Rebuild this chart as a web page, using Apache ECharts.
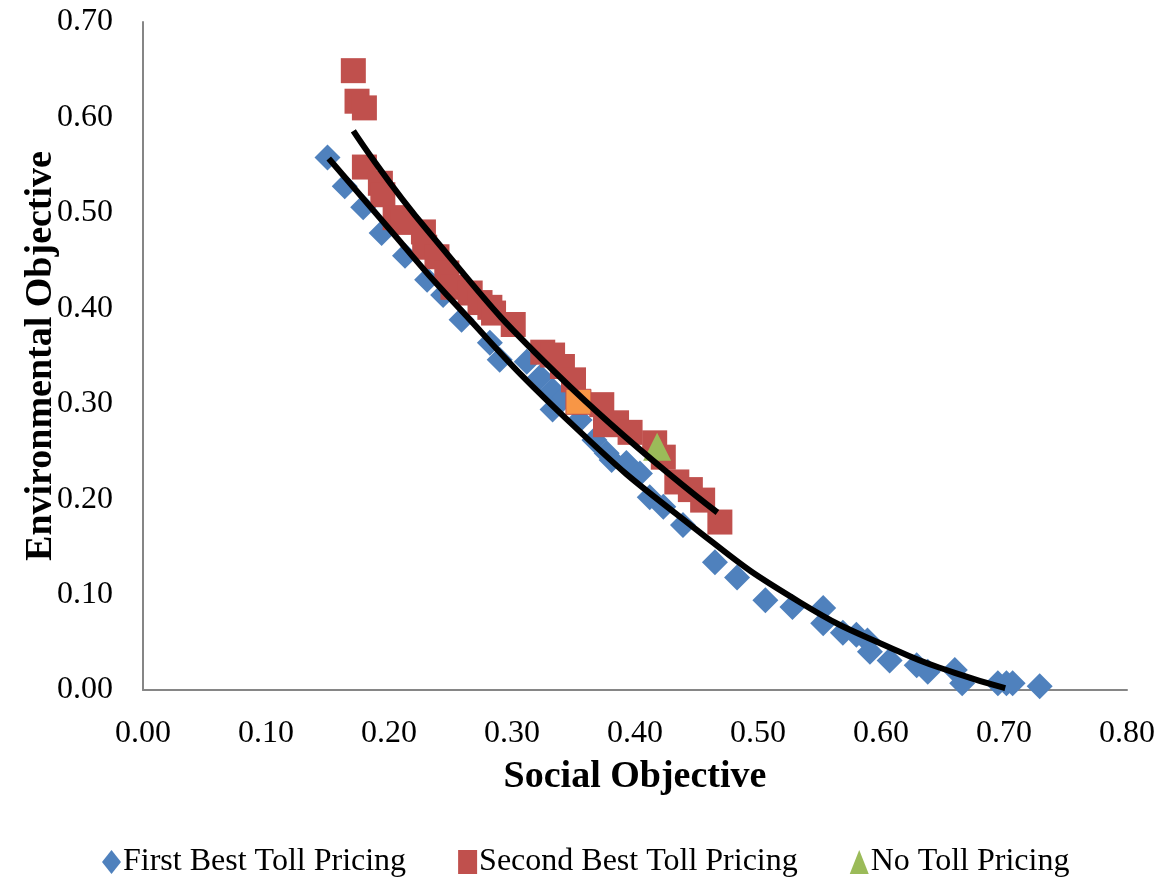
<!DOCTYPE html>
<html>
<head>
<meta charset="utf-8">
<script src="https://cdn.jsdelivr.net/npm/echarts@6/dist/echarts.min.js"></script>
<style>
html,body{margin:0;padding:0;background:#fff;}
#chart{width:1162px;height:881px;}
</style>
</head>
<body>
<div id="chart"></div>
<script>
// ---- data ----
const seriesNames = ['First Best Toll Pricing', 'Second Best Toll Pricing', 'No Toll Pricing'];
const xTicks = ['0.00','0.10','0.20','0.30','0.40','0.50','0.60','0.70','0.80'];
const yTicks = ['0.00','0.10','0.20','0.30','0.40','0.50','0.60','0.70'];

const firstBestX = [0.150,0.164,0.179,0.194,0.213,0.231,0.244,0.259,0.282,0.290,0.312,0.323,0.333,0.333,0.343,0.355,0.367,0.377,0.381,0.393,0.404,0.412,0.423,0.439,0.465,0.483,0.506,0.528,0.553,0.553,0.569,0.580,0.589,0.591,0.607,0.629,0.638,0.660,0.666,0.695,0.702,0.707,0.729];
const firstBestY = [0.558,0.528,0.506,0.479,0.455,0.430,0.414,0.388,0.364,0.346,0.344,0.328,0.314,0.294,0.307,0.283,0.262,0.248,0.241,0.238,0.227,0.202,0.192,0.173,0.134,0.118,0.094,0.087,0.086,0.070,0.060,0.058,0.052,0.040,0.031,0.026,0.019,0.021,0.007,0.007,0.007,0.007,0.004];

const secondBestX = [0.171,0.174,0.180,0.180,0.193,0.195,0.205,0.211,0.228,0.229,0.239,0.247,0.252,0.266,0.274,0.282,0.285,0.301,0.325,0.333,0.341,0.350,0.373,0.376,0.385,0.396,0.416,0.423,0.434,0.445,0.455,0.469];
const secondBestY = [0.649,0.617,0.610,0.548,0.531,0.519,0.495,0.490,0.480,0.464,0.454,0.437,0.422,0.416,0.406,0.401,0.395,0.383,0.354,0.351,0.339,0.325,0.299,0.278,0.280,0.270,0.259,0.244,0.218,0.210,0.199,0.176];
const highlightedPoint = [0.354, 0.302];

const noTollX = [0.418];
const noTollY = [0.255];

// polynomial trend lines
const trendFirstX = [0.151,0.201,0.247,0.350,0.447,0.534,0.615,0.660,0.701];
const trendFirstY = [0.557,0.482,0.414,0.277,0.171,0.092,0.040,0.018,0.002];
const trendSecondX = [0.171,0.231,0.339,0.467];
const trendSecondY = [0.586,0.482,0.328,0.186];

// ---- chart ----
const zip = (xs, ys) => xs.map((x, i) => [x, ys[i]]);
const FONT = '"Liberation Serif", "Times New Roman", serif';
const BLUE = '#4F81BD', RED = '#C0504D', GREEN = '#9BBB59', ORANGE = '#F79646';

const chart = echarts.init(document.getElementById('chart'), null, {renderer: 'canvas'});
const secondData = zip(secondBestX, secondBestY);
secondData.push({value: highlightedPoint, itemStyle: {color: ORANGE, borderColor: RED, borderWidth: 1}});

chart.setOption({
  animation: false,
  backgroundColor: '#fff',
  grid: {left: 143, right: 35, top: 22, bottom: 191, containLabel: false, outerBoundsMode: 'none'},
  xAxis: {
    type: 'value', min: 0, max: 0.8, interval: 0.1,
    name: 'Social Objective', nameLocation: 'middle', nameGap: 68, nameMoveOverlap: false,
    nameTextStyle: {fontFamily: FONT, fontSize: 38, fontWeight: 'bold', color: '#000'},
    axisLine: {show: true, lineStyle: {color: '#868686', width: 2}},
    axisTick: {show: false},
    splitLine: {show: false},
    axisLabel: {fontFamily: FONT, fontSize: 32, color: '#000', margin: 28,
      formatter: v => xTicks[Math.round(v * 10)]}
  },
  yAxis: {
    type: 'value', min: 0, max: 0.7, interval: 0.1,
    name: 'Environmental Objective', nameLocation: 'middle', nameGap: 83, nameRotate: 90, nameMoveOverlap: false,
    nameTextStyle: {fontFamily: FONT, fontSize: 38, fontWeight: 'bold', color: '#000'},
    axisLine: {show: true, lineStyle: {color: '#868686', width: 2}},
    axisTick: {show: false},
    splitLine: {show: false},
    axisLabel: {fontFamily: FONT, fontSize: 32, color: '#000', margin: 30,
      formatter: v => yTicks[Math.round(v * 10)]}
  },
  legend: {
    left: 97, top: 841, itemGap: 52, itemWidth: 19, itemHeight: 24,
    textStyle: {fontFamily: FONT, fontSize: 32, color: '#000', padding: [0,0,0,-3]},
    data: [
      {name: seriesNames[0], icon: 'diamond'},
      {name: seriesNames[1], icon: 'rect'},
      {name: seriesNames[2], icon: 'triangle'}
    ]
  },
  series: [
    {name: seriesNames[0], type: 'scatter', symbol: 'diamond', symbolSize: 26,
      itemStyle: {color: BLUE, opacity: 1}, data: zip(firstBestX, firstBestY), z: 2},
    {name: seriesNames[1], type: 'scatter', symbol: 'rect', symbolSize: 25,
      itemStyle: {color: RED, opacity: 1}, data: secondData, z: 3},
    {name: seriesNames[2], type: 'scatter', symbol: 'triangle', symbolSize: 28,
      itemStyle: {color: GREEN, opacity: 1}, data: zip(noTollX, noTollY), z: 4},
    {name: 'trend1', type: 'line', smooth: 0.5, showSymbol: false, symbol: 'none',
      lineStyle: {color: '#000', width: 6}, data: zip(trendFirstX, trendFirstY), z: 5, silent: true},
    {name: 'trend2', type: 'line', smooth: 0.5, showSymbol: false, symbol: 'none',
      lineStyle: {color: '#000', width: 6}, data: zip(trendSecondX, trendSecondY), z: 5, silent: true}
  ]
});
</script>
</body>
</html>
